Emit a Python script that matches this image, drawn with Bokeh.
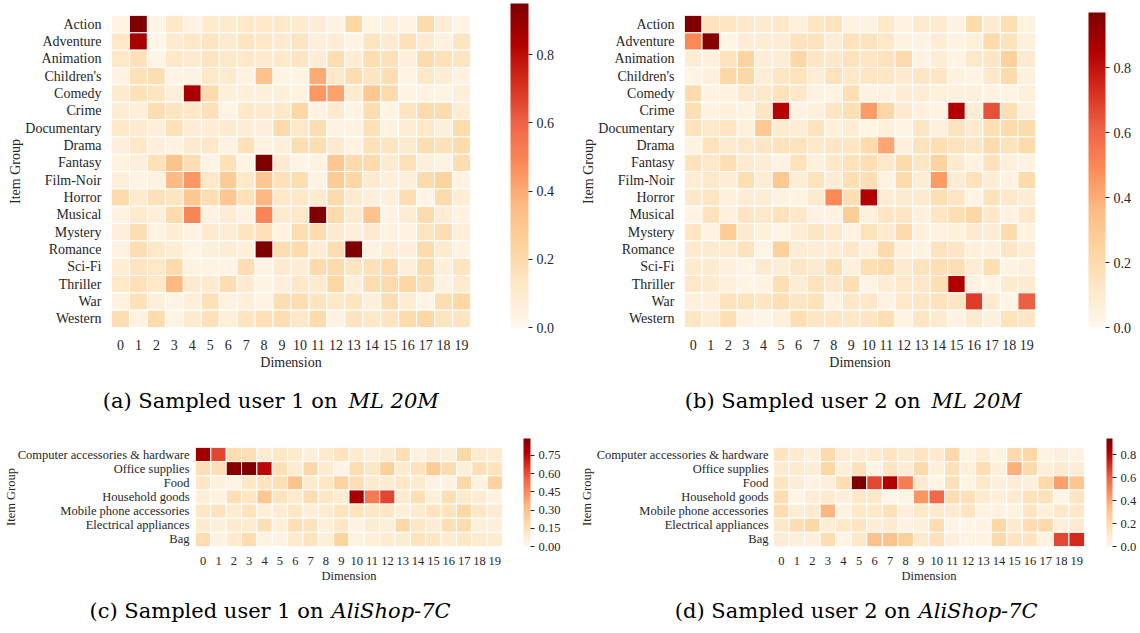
import numpy as np
from bokeh.plotting import figure
from bokeh.layouts import column, row
from bokeh.models import (ColumnDataSource, LinearColorMapper, ColorBar, FixedTicker,
                          PrintfTickFormatter, Range1d)
from bokeh.transform import transform
from bokeh.core.properties import value
from bokeh.palettes import OrRd9
from bokeh.embed import file_html
from bokeh.resources import INLINE

# ---- data -------------------------------------------------------------
dims = [str(i) for i in range(20)]

movie_groups = ["Action", "Adventure", "Animation", "Children's", "Comedy", "Crime",
                "Documentary", "Drama", "Fantasy", "Film-Noir", "Horror", "Musical",
                "Mystery", "Romance", "Sci-Fi", "Thriller", "War", "Western"]

shop_groups = ["Computer accessories & hardware", "Office supplies", "Food",
               "Household goods", "Mobile phone accessories", "Electrical appliances", "Bag"]

# ML 20M, sampled user 1 (rows follow movie_groups, columns follow dims)
ml_user1 = [
    [0.03, 0.95, 0.02, 0.12, 0.04, 0.10, 0.10, 0.12, 0.12, 0.12, 0.10, 0.08, 0.04, 0.22, 0.03, 0.06, 0.03, 0.20, 0.08, 0.03],
    [0.12, 0.85, 0.02, 0.10, 0.12, 0.14, 0.10, 0.14, 0.12, 0.10, 0.14, 0.06, 0.08, 0.03, 0.14, 0.10, 0.16, 0.10, 0.05, 0.14],
    [0.12, 0.16, 0.02, 0.12, 0.10, 0.14, 0.12, 0.12, 0.10, 0.12, 0.14, 0.08, 0.18, 0.08, 0.18, 0.16, 0.06, 0.20, 0.16, 0.14],
    [0.04, 0.16, 0.18, 0.03, 0.04, 0.12, 0.10, 0.04, 0.32, 0.03, 0.03, 0.40, 0.12, 0.18, 0.14, 0.18, 0.03, 0.12, 0.08, 0.04],
    [0.10, 0.16, 0.14, 0.06, 0.85, 0.20, 0.06, 0.06, 0.06, 0.06, 0.04, 0.45, 0.42, 0.10, 0.30, 0.20, 0.03, 0.04, 0.03, 0.06],
    [0.08, 0.06, 0.18, 0.14, 0.12, 0.16, 0.03, 0.12, 0.10, 0.12, 0.22, 0.04, 0.10, 0.03, 0.18, 0.03, 0.14, 0.20, 0.20, 0.08],
    [0.12, 0.10, 0.06, 0.16, 0.08, 0.08, 0.10, 0.08, 0.06, 0.20, 0.12, 0.18, 0.04, 0.04, 0.16, 0.04, 0.08, 0.12, 0.06, 0.20],
    [0.06, 0.12, 0.06, 0.04, 0.10, 0.12, 0.04, 0.16, 0.04, 0.06, 0.18, 0.18, 0.10, 0.04, 0.16, 0.14, 0.10, 0.18, 0.16, 0.20],
    [0.04, 0.06, 0.16, 0.32, 0.18, 0.03, 0.16, 0.03, 0.95, 0.10, 0.03, 0.04, 0.30, 0.20, 0.20, 0.10, 0.16, 0.06, 0.04, 0.18],
    [0.06, 0.03, 0.04, 0.35, 0.45, 0.12, 0.28, 0.12, 0.30, 0.16, 0.18, 0.04, 0.28, 0.22, 0.10, 0.06, 0.06, 0.20, 0.24, 0.04],
    [0.20, 0.10, 0.16, 0.14, 0.30, 0.18, 0.30, 0.16, 0.36, 0.12, 0.12, 0.10, 0.20, 0.10, 0.06, 0.06, 0.18, 0.03, 0.20, 0.08],
    [0.04, 0.10, 0.06, 0.20, 0.50, 0.04, 0.08, 0.04, 0.50, 0.10, 0.12, 0.95, 0.20, 0.10, 0.32, 0.04, 0.08, 0.20, 0.08, 0.04],
    [0.06, 0.18, 0.03, 0.08, 0.04, 0.10, 0.08, 0.14, 0.16, 0.04, 0.18, 0.20, 0.10, 0.06, 0.10, 0.04, 0.04, 0.14, 0.18, 0.06],
    [0.04, 0.18, 0.12, 0.08, 0.03, 0.06, 0.08, 0.06, 0.95, 0.18, 0.20, 0.08, 0.18, 0.95, 0.04, 0.08, 0.06, 0.20, 0.10, 0.04],
    [0.08, 0.14, 0.12, 0.20, 0.04, 0.03, 0.03, 0.18, 0.03, 0.10, 0.08, 0.20, 0.20, 0.14, 0.16, 0.20, 0.06, 0.20, 0.06, 0.14],
    [0.12, 0.16, 0.12, 0.36, 0.10, 0.10, 0.18, 0.10, 0.03, 0.06, 0.12, 0.10, 0.22, 0.06, 0.18, 0.20, 0.22, 0.18, 0.04, 0.10],
    [0.04, 0.16, 0.06, 0.03, 0.06, 0.16, 0.04, 0.06, 0.03, 0.18, 0.18, 0.14, 0.12, 0.14, 0.06, 0.18, 0.08, 0.03, 0.18, 0.22],
    [0.18, 0.04, 0.20, 0.03, 0.10, 0.16, 0.06, 0.14, 0.16, 0.18, 0.12, 0.20, 0.04, 0.14, 0.12, 0.14, 0.20, 0.22, 0.14, 0.14],
]

# ML 20M, sampled user 2
ml_user2 = [
    [0.97, 0.16, 0.14, 0.12, 0.10, 0.12, 0.06, 0.14, 0.16, 0.04, 0.04, 0.12, 0.04, 0.10, 0.10, 0.04, 0.20, 0.10, 0.18, 0.04],
    [0.50, 0.95, 0.02, 0.08, 0.08, 0.08, 0.16, 0.16, 0.08, 0.16, 0.16, 0.12, 0.04, 0.04, 0.08, 0.04, 0.06, 0.20, 0.16, 0.06],
    [0.08, 0.06, 0.16, 0.24, 0.08, 0.08, 0.22, 0.14, 0.12, 0.16, 0.14, 0.16, 0.20, 0.04, 0.08, 0.03, 0.12, 0.14, 0.26, 0.10],
    [0.03, 0.06, 0.22, 0.22, 0.08, 0.14, 0.16, 0.08, 0.16, 0.12, 0.14, 0.14, 0.10, 0.14, 0.14, 0.04, 0.03, 0.12, 0.20, 0.06],
    [0.20, 0.04, 0.04, 0.12, 0.12, 0.16, 0.12, 0.04, 0.04, 0.18, 0.04, 0.04, 0.08, 0.08, 0.06, 0.06, 0.06, 0.04, 0.03, 0.06],
    [0.18, 0.04, 0.06, 0.04, 0.14, 0.84, 0.04, 0.06, 0.14, 0.18, 0.45, 0.22, 0.10, 0.06, 0.03, 0.85, 0.08, 0.65, 0.18, 0.06],
    [0.16, 0.12, 0.14, 0.06, 0.30, 0.10, 0.08, 0.16, 0.06, 0.08, 0.03, 0.06, 0.03, 0.14, 0.06, 0.16, 0.10, 0.18, 0.20, 0.20],
    [0.04, 0.16, 0.10, 0.12, 0.14, 0.16, 0.16, 0.12, 0.14, 0.14, 0.20, 0.42, 0.06, 0.16, 0.18, 0.16, 0.14, 0.20, 0.16, 0.20],
    [0.16, 0.12, 0.18, 0.10, 0.08, 0.04, 0.16, 0.06, 0.12, 0.16, 0.18, 0.12, 0.20, 0.14, 0.24, 0.10, 0.04, 0.16, 0.06, 0.04],
    [0.08, 0.12, 0.08, 0.18, 0.08, 0.30, 0.08, 0.16, 0.08, 0.18, 0.18, 0.04, 0.20, 0.08, 0.45, 0.08, 0.16, 0.08, 0.04, 0.20],
    [0.12, 0.14, 0.06, 0.08, 0.08, 0.04, 0.04, 0.10, 0.50, 0.18, 0.85, 0.08, 0.10, 0.10, 0.18, 0.14, 0.03, 0.16, 0.12, 0.08],
    [0.03, 0.16, 0.06, 0.14, 0.12, 0.16, 0.12, 0.04, 0.04, 0.28, 0.06, 0.14, 0.14, 0.06, 0.14, 0.18, 0.22, 0.12, 0.04, 0.12],
    [0.14, 0.04, 0.28, 0.10, 0.06, 0.03, 0.08, 0.14, 0.10, 0.04, 0.16, 0.10, 0.20, 0.06, 0.04, 0.06, 0.10, 0.08, 0.20, 0.04],
    [0.10, 0.10, 0.10, 0.16, 0.03, 0.26, 0.08, 0.08, 0.08, 0.12, 0.06, 0.20, 0.06, 0.04, 0.16, 0.14, 0.06, 0.06, 0.14, 0.08],
    [0.10, 0.10, 0.06, 0.03, 0.10, 0.08, 0.14, 0.10, 0.18, 0.06, 0.18, 0.20, 0.10, 0.16, 0.18, 0.18, 0.08, 0.18, 0.04, 0.06],
    [0.12, 0.10, 0.06, 0.03, 0.04, 0.18, 0.08, 0.16, 0.12, 0.18, 0.03, 0.08, 0.12, 0.12, 0.18, 0.85, 0.04, 0.03, 0.10, 0.10],
    [0.06, 0.06, 0.16, 0.16, 0.14, 0.18, 0.14, 0.16, 0.04, 0.12, 0.12, 0.04, 0.12, 0.14, 0.16, 0.14, 0.70, 0.10, 0.03, 0.62],
    [0.14, 0.08, 0.18, 0.04, 0.02, 0.06, 0.18, 0.14, 0.14, 0.12, 0.14, 0.18, 0.03, 0.14, 0.10, 0.04, 0.10, 0.06, 0.16, 0.14],
]

# AliShop-7C, sampled user 1 (rows follow shop_groups)
ali_user1 = [
    [0.82, 0.62, 0.18, 0.16, 0.08, 0.12, 0.10, 0.06, 0.10, 0.14, 0.10, 0.06, 0.10, 0.16, 0.04, 0.08, 0.06, 0.20, 0.10, 0.08],
    [0.16, 0.16, 0.87, 0.89, 0.76, 0.16, 0.08, 0.20, 0.10, 0.03, 0.18, 0.12, 0.24, 0.10, 0.14, 0.26, 0.18, 0.06, 0.16, 0.14],
    [0.12, 0.05, 0.03, 0.12, 0.14, 0.16, 0.30, 0.10, 0.12, 0.22, 0.16, 0.10, 0.08, 0.12, 0.10, 0.04, 0.04, 0.20, 0.04, 0.22],
    [0.06, 0.04, 0.16, 0.12, 0.28, 0.14, 0.10, 0.18, 0.12, 0.08, 0.80, 0.50, 0.62, 0.10, 0.16, 0.06, 0.16, 0.10, 0.08, 0.04],
    [0.12, 0.14, 0.08, 0.14, 0.06, 0.08, 0.12, 0.06, 0.08, 0.14, 0.14, 0.12, 0.12, 0.06, 0.10, 0.14, 0.14, 0.20, 0.12, 0.08],
    [0.10, 0.06, 0.10, 0.08, 0.16, 0.06, 0.16, 0.14, 0.06, 0.12, 0.04, 0.08, 0.06, 0.20, 0.12, 0.08, 0.16, 0.18, 0.06, 0.06],
    [0.18, 0.04, 0.10, 0.18, 0.04, 0.04, 0.10, 0.14, 0.06, 0.22, 0.04, 0.06, 0.08, 0.08, 0.14, 0.12, 0.08, 0.12, 0.10, 0.08],
]

# AliShop-7C, sampled user 2
ali_user2 = [
    [0.14, 0.10, 0.06, 0.20, 0.08, 0.08, 0.10, 0.14, 0.10, 0.14, 0.10, 0.20, 0.04, 0.08, 0.04, 0.20, 0.22, 0.04, 0.06, 0.04],
    [0.10, 0.10, 0.08, 0.22, 0.06, 0.16, 0.03, 0.14, 0.08, 0.20, 0.06, 0.16, 0.06, 0.18, 0.06, 0.38, 0.20, 0.06, 0.10, 0.08],
    [0.14, 0.08, 0.04, 0.06, 0.18, 0.94, 0.65, 0.82, 0.52, 0.10, 0.03, 0.16, 0.04, 0.12, 0.06, 0.08, 0.06, 0.20, 0.42, 0.30],
    [0.18, 0.02, 0.08, 0.10, 0.06, 0.12, 0.12, 0.02, 0.03, 0.45, 0.58, 0.18, 0.16, 0.10, 0.06, 0.10, 0.16, 0.16, 0.02, 0.14],
    [0.18, 0.08, 0.10, 0.36, 0.04, 0.12, 0.12, 0.16, 0.06, 0.12, 0.10, 0.10, 0.14, 0.04, 0.04, 0.04, 0.14, 0.06, 0.12, 0.12],
    [0.12, 0.18, 0.22, 0.08, 0.12, 0.14, 0.08, 0.10, 0.04, 0.06, 0.18, 0.03, 0.02, 0.04, 0.22, 0.10, 0.18, 0.20, 0.06, 0.10],
    [0.08, 0.06, 0.06, 0.18, 0.03, 0.12, 0.32, 0.32, 0.26, 0.10, 0.16, 0.06, 0.04, 0.04, 0.20, 0.14, 0.14, 0.04, 0.65, 0.72],
]

ml_cbar_ticks = [0.0, 0.2, 0.4, 0.6, 0.8]
ali1_cbar_ticks = [0.0, 0.15, 0.30, 0.45, 0.60, 0.75]
ali2_cbar_ticks = [0.0, 0.2, 0.4, 0.6, 0.8]

captions = [
    ("(a) Sampled user 1 on", "ML 20M"),
    ("(b) Sampled user 2 on", "ML 20M"),
    ("(c) Sampled user 1 on", "AliShop-7C"),
    ("(d) Sampled user 2 on", "AliShop-7C"),
]

# ---- styling ----------------------------------------------------------
TICK_FONT = "Liberation Serif"
CAP_FONT = "DejaVu Serif"
TEXT_COLOR = "#262626"


def orrd_palette(n=256):
    """Smooth light-to-dark OrRd ramp built from the 9 ColorBrewer stops."""
    stops = list(reversed(OrRd9))
    rgb = np.array([[int(c[i:i + 2], 16) for i in (1, 3, 5)] for c in stops], dtype=float)
    pos = np.linspace(0, 1, len(stops))
    t = np.linspace(0, 1, n)
    out = []
    for k in t:
        r = np.interp(k, pos, rgb[:, 0])
        g = np.interp(k, pos, rgb[:, 1])
        b = np.interp(k, pos, rgb[:, 2])
        out.append("#%02x%02x%02x" % (int(round(r)), int(round(g)), int(round(b))))
    return out


PALETTE = orrd_palette()


def heatmap_panel(matrix, groups, w, h, left, top, fw, fh, font_px,
                  cbar_x, cbar_w, ticks, fmt, x_standoffs, y_standoffs):
    vals = np.array(matrix)
    mapper = LinearColorMapper(palette=PALETTE, low=0.0, high=float(vals.max()))

    xs, ys, vs = [], [], []
    for gi, g in enumerate(groups):
        for di, d in enumerate(dims):
            xs.append(d)
            ys.append(g)
            vs.append(matrix[gi][di])
    src = ColumnDataSource(dict(dim=xs, group=ys, val=vs))

    p = figure(width=w, height=h, x_range=dims, y_range=list(reversed(groups)),
               output_backend="svg", toolbar_location=None,
               min_border_left=left, min_border_right=w - left - fw,
               min_border_top=top, min_border_bottom=h - top - fh)
    p.rect(x="dim", y="group", width=1, height=1, source=src,
           fill_color=transform("val", mapper), line_color="white", line_width=1)

    p.outline_line_color = None
    p.grid.grid_line_color = None
    p.background_fill_color = "white"
    p.border_fill_color = "white"

    for ax in (p.xaxis, p.yaxis):
        ax.axis_line_color = None
        ax.major_tick_line_color = None
        ax.minor_tick_line_color = None
        ax.major_label_text_font = TICK_FONT
        ax.major_label_text_font_size = font_px
        ax.major_label_text_color = TEXT_COLOR
        ax.axis_label_text_font = TICK_FONT
        ax.axis_label_text_font_size = font_px
        ax.axis_label_text_font_style = "normal"
        ax.axis_label_text_color = TEXT_COLOR

    p.xaxis.axis_label = "Dimension"
    p.xaxis.major_label_standoff = x_standoffs[0]
    p.xaxis.axis_label_standoff = x_standoffs[1]

    p.yaxis.axis_label = "Item Group"
    p.yaxis.major_tick_out = 0
    p.yaxis.major_tick_in = 0
    p.yaxis.major_label_standoff = y_standoffs[0]
    p.yaxis.axis_label_standoff = y_standoffs[1]

    cb = ColorBar(color_mapper=mapper, orientation="vertical",
                  location=(cbar_x - left, 0), width=cbar_w, height=fh,
                  padding=0, margin=0,
                  ticker=FixedTicker(ticks=ticks),
                  formatter=PrintfTickFormatter(format=fmt),
                  major_label_text_font=TICK_FONT,
                  major_label_text_font_size=font_px,
                  major_label_text_color=TEXT_COLOR,
                  major_tick_in=0, major_tick_out=4,
                  major_tick_line_color=TEXT_COLOR,
                  minor_tick_line_color=None,
                  label_standoff=4,
                  bar_line_color=None, border_line_color=None,
                  background_fill_alpha=0)
    p.add_layout(cb, "center")
    return p


def caption_panel(w, h, normal_text, italic_text, x_join, gap, y_base):
    p = figure(width=w, height=h, x_range=Range1d(0, w), y_range=Range1d(0, h),
               output_backend="svg", toolbar_location=None,
               min_border=0, min_border_left=0, min_border_right=0,
               min_border_top=0, min_border_bottom=0)
    p.axis.visible = False
    p.grid.visible = False
    p.outline_line_color = None
    p.text(x=[x_join], y=[y_base], text=[normal_text], text_align="right",
           text_baseline="alphabetic", text_font=value(CAP_FONT),
           text_font_size="21px", text_color="black")
    p.text(x=[x_join + gap], y=[y_base], text=[italic_text], text_align="left",
           text_baseline="alphabetic", text_font=value(CAP_FONT),
           text_font_style="italic", text_font_size="21px", text_color="black")
    return p


pa = heatmap_panel(ml_user1, movie_groups, 570, 372, 111, 8, 359, 324, "14px",
                   510, 18, ml_cbar_ticks, "%.1f", (6, 2), (10, -1))
pb = heatmap_panel(ml_user2, movie_groups, 570, 372, 114, 15, 351, 315, "14px",
                   518, 17, ml_cbar_ticks, "%.1f", (6, 2), (10, -1))
pc = heatmap_panel(ali_user1, shop_groups, 570, 165, 195, 27, 307, 108, "12.5px",
                   523, 7, ali1_cbar_ticks, "%.2f", (4, 1), (6, -3))
pd = heatmap_panel(ali_user2, shop_groups, 570, 165, 203, 26, 311, 108, "12.5px",
                   536, 6, ali2_cbar_ticks, "%.1f", (4, 1), (5, 0))

ca = caption_panel(570, 48, captions[0][0], captions[0][1], 337, 11, 20)
cbp = caption_panel(570, 48, captions[1][0], captions[1][1], 350, 11, 20)
cc = caption_panel(570, 48, captions[2][0], captions[2][1], 323, 8, 23)
cd = caption_panel(570, 48, captions[3][0], captions[3][1], 340, 8, 23)

layout = column(row(pa, pb), row(ca, cbp), row(pc, pd), row(cc, cd))

open("out.html", "w").write(file_html(layout, INLINE))
